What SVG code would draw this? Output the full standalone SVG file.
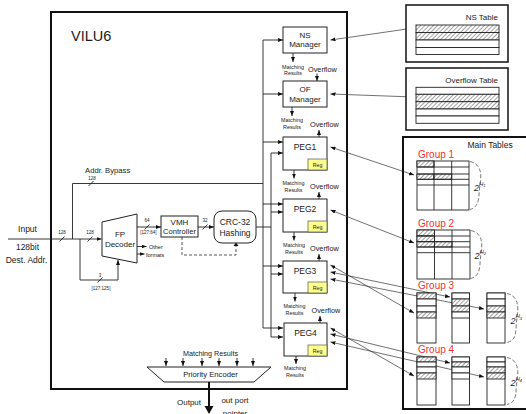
<svg xmlns="http://www.w3.org/2000/svg" width="526" height="414" viewBox="0 0 526 414">
<defs>
<marker id="ah" viewBox="0 0 10 8" refX="10" refY="4" markerWidth="5" markerHeight="4" markerUnits="userSpaceOnUse" orient="auto-start-reverse"><path d="M0,0 L10,4 L0,8 z" fill="#111"/></marker>
<pattern id="hatch" width="3" height="3" patternUnits="userSpaceOnUse" patternTransform="rotate(45)"><rect width="3" height="3" fill="#fff"/><line x1="0" y1="0" x2="0" y2="3" stroke="#333" stroke-width="0.9"/></pattern>
<style>
text{font-family:"Liberation Sans",Arial,sans-serif;fill:#1a1a1a}
.box{fill:#fff;stroke:#222;stroke-width:1}
.frame{fill:none;stroke:#111;stroke-width:2}
.ln{fill:none;stroke:#222;stroke-width:0.9}
.ar{fill:none;stroke:#222;stroke-width:0.9;marker-end:url(#ah)}
.bi{fill:none;stroke:#333;stroke-width:0.7;marker-start:url(#ah);marker-end:url(#ah)}
.dash{fill:none;stroke:#444;stroke-width:0.9;stroke-dasharray:3,2}
.brace{fill:none;stroke:#555;stroke-width:0.8;stroke-dasharray:4,2}
.reg{fill:#ffff8c;stroke:#555;stroke-width:0.7}
.tb{fill:#fff;stroke:#222;stroke-width:0.9}
.h{fill:url(#hatch);stroke:#222;stroke-width:0.9}
.lbl{font-size:8px;text-anchor:middle}
.sm{font-size:5.3px;text-anchor:middle}
.mr{font-size:5.4px;text-anchor:middle}
.of{font-size:7.3px}
.grp{font-size:10px;fill:#f23030}
.bus{font-size:4.5px;text-anchor:middle}
</style>
</defs>

<!-- VILU6 frame -->
<g id="vilu6">
<rect class="frame" x="51" y="12" width="296" height="377"/>
<text x="71" y="40.5" font-size="14.5">VILU6</text>
</g>

<!-- connectors -->
<g id="connectors">
<!-- input -->
<line class="ar" x1="8" y1="239" x2="101.5" y2="239"/>
<polyline class="ln" points="72.5,239 72.5,183.5 263,183.5"/>
<polyline class="ar" points="80,239 80,280 118,280 118,260"/>
<!-- slashes -->
<g class="ln">
<line x1="59.5" y1="241.5" x2="64.5" y2="236.5"/>
<line x1="87.5" y1="241.5" x2="92.5" y2="236.5"/>
<line x1="88.5" y1="186" x2="93.5" y2="181"/>
<line x1="97.5" y1="282.5" x2="102.5" y2="277.5"/>
<line x1="144.5" y1="229.5" x2="149.5" y2="224.5"/>
<line x1="202.5" y1="229.5" x2="207.5" y2="224.5"/>
</g>
<!-- decoder outputs -->
<line class="ar" x1="137" y1="227" x2="161" y2="227"/>
<line class="ar" x1="137" y1="246.5" x2="146.5" y2="246.5"/>
<line class="ar" x1="137" y1="254" x2="144.5" y2="254"/>
<line class="ar" x1="198" y1="227" x2="214" y2="227"/>
<polyline class="dash" points="182,237 182,255 236,255 236,246"/>
<path d="M233.5,246 L238.5,246 L236,242.5 z" fill="#111"/>
<!-- CRC to bus -->
<line class="ln" x1="256" y1="227" x2="271" y2="227"/>
<!-- buses -->
<line class="ln" x1="263" y1="40" x2="263" y2="328"/>
<line class="ln" x1="271" y1="153" x2="271" y2="337"/>
<line class="ar" x1="263" y1="40" x2="283" y2="40"/>
<line class="ar" x1="263" y1="94" x2="283" y2="94"/>
<line class="ar" x1="263" y1="142" x2="283" y2="142"/>
<line class="ar" x1="271" y1="153" x2="283" y2="153"/>
<line class="ar" x1="263" y1="204" x2="283" y2="204"/>
<line class="ar" x1="271" y1="212" x2="283" y2="212"/>
<line class="ar" x1="263" y1="266" x2="283" y2="266"/>
<line class="ar" x1="271" y1="274" x2="283" y2="274"/>
<line class="ar" x1="263" y1="328" x2="283" y2="328"/>
<line class="ar" x1="271" y1="337" x2="283" y2="337"/>
<!-- matching results arrows -->
<line class="ar" x1="293" y1="53" x2="293" y2="62"/>
<line class="ar" x1="317" y1="73.5" x2="317" y2="81"/>
<line class="ar" x1="292" y1="107" x2="292" y2="116"/>
<line class="ar" x1="319" y1="137" x2="319" y2="130"/>
<line class="ar" x1="294" y1="170" x2="294" y2="178.5"/>
<line class="ar" x1="319" y1="199" x2="319" y2="192"/>
<line class="ar" x1="294" y1="232" x2="294" y2="240.5"/>
<line class="ar" x1="319" y1="261" x2="319" y2="254"/>
<line class="ar" x1="295" y1="293" x2="295" y2="301.5"/>
<line class="ar" x1="320" y1="323" x2="320" y2="316"/>
<line class="ar" x1="296" y1="356" x2="296" y2="364"/>
<!-- encoder inputs -->
<line class="ar" x1="166" y1="358" x2="166" y2="366"/>
<line class="ar" x1="183" y1="358" x2="183" y2="366"/>
<line class="ar" x1="202" y1="358" x2="202" y2="366"/>
<line class="ar" x1="219" y1="358" x2="219" y2="366"/>
<line class="ar" x1="237" y1="358" x2="237" y2="366"/>
<line class="ar" x1="253" y1="358" x2="253" y2="366"/>
<!-- output -->
<line x1="209" y1="382" x2="209" y2="408" stroke="#111" stroke-width="2"/>
<path d="M204.5,406 L213.5,406 L209,414 z" fill="#111"/>
<!-- table links -->
<line class="bi" x1="330.5" y1="40" x2="414" y2="28"/>
<line class="bi" x1="330.5" y1="94" x2="414" y2="97"/>
<line class="bi" x1="330.5" y1="147" x2="414" y2="175"/>
<line class="bi" x1="330.5" y1="210" x2="414" y2="243"/>
<line class="bi" x1="330.5" y1="265" x2="414" y2="313"/>
<line class="bi" x1="330.5" y1="272" x2="450" y2="297"/>
<line class="bi" x1="330.5" y1="279" x2="484" y2="309"/>
<line class="bi" x1="330.5" y1="328" x2="414" y2="376"/>
<line class="bi" x1="330.5" y1="334" x2="450" y2="363"/>
<line class="bi" x1="330.5" y1="342" x2="484" y2="377"/>
</g>

<!-- labels of buses -->
<g id="bus-labels">
<text class="bus" x="92" y="180">128</text>
<text class="bus" x="62" y="234">128</text>
<text class="bus" x="90" y="234">128</text>
<text class="bus" x="100" y="277">3</text>
<text class="bus" x="101" y="290">[127:125]</text>
<text class="bus" x="147" y="222">64</text>
<text class="bus" x="148.5" y="234">[127:64]</text>
<text class="bus" x="205" y="222">32</text>
<text x="85" y="173" font-size="7.7">Addr. Bypass</text>
<text x="27.5" y="232" font-size="8.5" text-anchor="middle">Input</text>
<text x="27.5" y="250" font-size="8.5" text-anchor="middle">128bit</text>
<text x="26.5" y="262.5" font-size="8.5" text-anchor="middle">Dest. Addr.</text>
<text x="149" y="248.5" font-size="5.5">Other</text>
<text x="146" y="256.5" font-size="5.5">formats</text>
</g>

<g id="fp-decoder">
<polygon class="box" points="102,222 137,214 137,263 102,256"/>
<text class="lbl" x="120" y="237">FP</text>
<text class="lbl" x="120" y="247">Decoder</text>
</g>

<g id="vmh-controller">
<rect class="box" x="161" y="216" width="37" height="21"/>
<text class="lbl" x="179.5" y="224.5" font-size="7.6">VMH</text>
<text class="lbl" x="179.5" y="234" style="font-size:7.6px">Controller</text>
</g>

<g id="crc32">
<rect class="box" x="214" y="211" width="42" height="32" rx="8"/>
<text class="lbl" x="235" y="225" style="font-size:8.5px">CRC-32</text>
<text class="lbl" x="235" y="235.5" style="font-size:8.5px">Hashing</text>
</g>

<g id="ns-manager">
<rect class="box" x="283" y="27" width="44" height="26"/>
<text class="lbl" x="305" y="37.5">NS</text>
<text class="lbl" x="305" y="47">Manager</text>
</g>
<g id="ns-out">
<text class="mr" x="293" y="68.5">Matching</text>
<text class="mr" x="293" y="75">Results</text>
<text class="of" x="308" y="72">Overflow</text>
</g>

<g id="of-manager">
<rect class="box" x="283" y="81" width="44" height="26"/>
<text class="lbl" x="305" y="92">OF</text>
<text class="lbl" x="305" y="101.5">Manager</text>
</g>
<g id="of-out">
<text class="mr" x="292" y="121.5">Matching</text>
<text class="mr" x="292" y="128.5">Results</text>
<text class="of" x="310" y="127">Overflow</text>
</g>

<g id="peg1">
<rect class="box" x="283" y="137" width="44" height="33"/>
<text class="lbl" x="305" y="149.5" style="font-size:8.5px">PEG1</text>
<rect class="reg" x="308" y="159" width="19" height="11"/>
<text class="sm" x="317.5" y="166.5">Reg</text>
</g>
<g id="peg1-out">
<text class="mr" x="293.5" y="184.5">Matching</text>
<text class="mr" x="293.5" y="191.5">Results</text>
<text class="of" x="310" y="189">Overflow</text>
</g>

<g id="peg2">
<rect class="box" x="283" y="199" width="44" height="33"/>
<text class="lbl" x="305" y="212" style="font-size:8.5px">PEG2</text>
<rect class="reg" x="308" y="221" width="19" height="11"/>
<text class="sm" x="317.5" y="228.5">Reg</text>
</g>
<g id="peg2-out">
<text class="mr" x="294" y="246.5">Matching</text>
<text class="mr" x="294" y="253.5">Results</text>
<text class="of" x="310" y="251">Overflow</text>
</g>

<g id="peg3">
<rect class="box" x="283" y="261" width="44" height="32"/>
<text class="lbl" x="305" y="273.5" style="font-size:8.5px">PEG3</text>
<rect class="reg" x="308" y="282" width="19" height="11"/>
<text class="sm" x="317.5" y="289.5">Reg</text>
</g>
<g id="peg3-out">
<text class="mr" x="294.5" y="307.5">Matching</text>
<text class="mr" x="294.5" y="314.5">Results</text>
<text class="of" x="311.5" y="313">Overflow</text>
</g>

<g id="peg4">
<rect class="box" x="284" y="323" width="43" height="33"/>
<text class="lbl" x="305.5" y="336" style="font-size:8.5px">PEG4</text>
<rect class="reg" x="308" y="345" width="19" height="11"/>
<text class="sm" x="317.5" y="352.5">Reg</text>
</g>
<g id="peg4-out">
<text class="mr" x="295" y="370">Matching</text>
<text class="mr" x="295" y="377">Results</text>
</g>

<g id="priority-encoder">
<text x="210.5" y="355.5" font-size="7.2" text-anchor="middle">Matching Results</text>
<polygon class="box" points="147,367 271,367 254,382 164,382"/>
<text x="210.5" y="377" font-size="7.7" text-anchor="middle">Priority Encoder</text>
</g>

<g id="output">
<text x="189" y="405" font-size="8" text-anchor="middle">Output</text>
<text x="235" y="403" font-size="8" text-anchor="middle">out port</text>
<text x="235" y="416" font-size="8" text-anchor="middle">pointer</text>
</g>

<g id="ns-table">
<rect x="406" y="5" width="102" height="57" fill="#fff" stroke="#111" stroke-width="1.5"/>
<text x="498" y="19.5" font-size="8" text-anchor="end">NS Table</text>
<rect class="h" x="416" y="25" width="83" height="7.5"/>
<rect class="h" x="416" y="32.5" width="83" height="7.5"/>
<rect class="tb" x="416" y="40" width="83" height="7.5"/>
<rect class="tb" x="416" y="47.5" width="83" height="7"/>
</g>

<g id="overflow-table">
<rect x="406" y="68" width="102" height="62" fill="#fff" stroke="#111" stroke-width="1.5"/>
<text x="498" y="82.5" font-size="8" text-anchor="end">Overflow Table</text>
<rect class="tb" x="416" y="87.3" width="83" height="7"/>
<rect class="h" x="416" y="94.3" width="83" height="7.4"/>
<rect class="h" x="416" y="101.7" width="83" height="7.3"/>
<rect class="tb" x="416" y="109" width="83" height="7"/>
<rect class="tb" x="416" y="116" width="83" height="7.3"/>
</g>

<g id="main-tables">
<rect x="403" y="137" width="130" height="272" fill="none" stroke="#111" stroke-width="2"/>
<text x="467.5" y="148" font-size="8.5">Main Tables</text>
</g>

<g id="group1">
<text class="grp" x="418" y="157.5">Group 1</text>
<rect class="tb" x="417" y="161" width="52" height="49"/>
<rect class="h" x="417" y="161" width="17" height="6"/>
<rect class="h" x="417" y="174" width="17" height="5.3"/>
<rect class="h" x="434" y="174" width="17.7" height="5.3"/>
<g class="ln"><line x1="417" y1="167" x2="469" y2="167"/><line x1="417" y1="174" x2="469" y2="174"/><line x1="417" y1="179.3" x2="469" y2="179.3"/><line x1="417" y1="185" x2="469" y2="185"/><line x1="434" y1="161" x2="434" y2="210"/><line x1="451.7" y1="161" x2="451.7" y2="210"/></g>
<path class="brace" d="M470,161.5 C481,164 482,174 480,185 C478,196 481,206 470,209.5"/>
<text x="474" y="191" font-size="9" font-style="italic">2<tspan font-size="6" dy="-5.5">H</tspan><tspan font-size="4" dy="1.5">1</tspan></text>
</g>

<g id="group2">
<text class="grp" x="418" y="226.5">Group 2</text>
<rect class="tb" x="417" y="230" width="53" height="49"/>
<rect class="h" x="417" y="230" width="17.5" height="6"/>
<rect class="h" x="417" y="236" width="17.5" height="5.7"/>
<rect class="h" x="417" y="241.7" width="17.5" height="5.3"/>
<rect class="h" x="434.5" y="241.7" width="17.5" height="5.3"/>
<g class="ln"><line x1="417" y1="236" x2="470" y2="236"/><line x1="417" y1="241.7" x2="470" y2="241.7"/><line x1="417" y1="247" x2="470" y2="247"/><line x1="417" y1="252.7" x2="470" y2="252.7"/><line x1="434.5" y1="230" x2="434.5" y2="279"/><line x1="452" y1="230" x2="452" y2="279"/></g>
<path class="brace" d="M471,230.5 C482,233 483,243 481,254 C479,265 482,275 471,278.5"/>
<text x="474.5" y="259" font-size="9" font-style="italic">2<tspan font-size="6" dy="-5.5">H</tspan><tspan font-size="4" dy="1.5">2</tspan></text>
</g>

<g id="group3">
<text class="grp" x="418" y="289">Group 3</text>
<rect class="tb" x="417" y="293" width="19" height="50"/>
<rect class="h" x="417" y="293" width="19" height="6"/>
<rect class="tb" x="417" y="299" width="19" height="7"/>
<rect class="tb" x="417" y="306" width="19" height="6"/>
<rect class="h" x="417" y="312" width="19" height="6"/>
<rect class="tb" x="452" y="293" width="17.5" height="50"/>
<rect class="tb" x="452" y="293" width="17.5" height="6"/>
<rect class="h" x="452" y="299" width="17.5" height="7"/>
<rect class="h" x="452" y="306" width="17.5" height="6"/>
<rect class="tb" x="452" y="312" width="17.5" height="6"/>
<rect class="tb" x="487" y="293" width="18" height="50"/>
<rect class="tb" x="487" y="293" width="18" height="6"/>
<rect class="tb" x="487" y="299" width="18" height="7"/>
<rect class="h" x="487" y="306" width="18" height="6"/>
<rect class="h" x="487" y="312" width="18" height="6"/>
<path class="brace" d="M507,293.5 C518,296 519,306 517,318 C515,330 518,340 507,342.5"/>
<text x="510.5" y="323.5" font-size="9" font-style="italic">2<tspan font-size="6" dy="-5.5">H</tspan><tspan font-size="4" dy="1.5">3</tspan></text>
</g>

<g id="group4">
<text class="grp" x="418" y="352.5">Group 4</text>
<rect class="tb" x="417" y="357" width="19" height="48"/>
<rect class="h" x="417" y="357" width="19" height="5"/>
<rect class="tb" x="417" y="362" width="19" height="5"/>
<rect class="tb" x="417" y="367" width="19" height="6"/>
<rect class="h" x="417" y="373" width="19" height="6"/>
<rect class="tb" x="452" y="357" width="17.5" height="48"/>
<rect class="tb" x="452" y="357" width="17.5" height="5"/>
<rect class="h" x="452" y="362" width="17.5" height="5"/>
<rect class="tb" x="452" y="367" width="17.5" height="6"/>
<rect class="tb" x="452" y="373" width="17.5" height="6"/>
<rect class="tb" x="487" y="357" width="18" height="48"/>
<rect class="tb" x="487" y="357" width="18" height="5"/>
<rect class="tb" x="487" y="362" width="18" height="5"/>
<rect class="h" x="487" y="367" width="18" height="6"/>
<rect class="h" x="487" y="373" width="18" height="6"/>
<path class="brace" d="M507,357.5 C518,360 519,370 517,381 C515,392 518,402 507,404.5"/>
<text x="510.5" y="386" font-size="9" font-style="italic">2<tspan font-size="6" dy="-5.5">H</tspan><tspan font-size="4" dy="1.5">4</tspan></text>
</g>
</svg>
